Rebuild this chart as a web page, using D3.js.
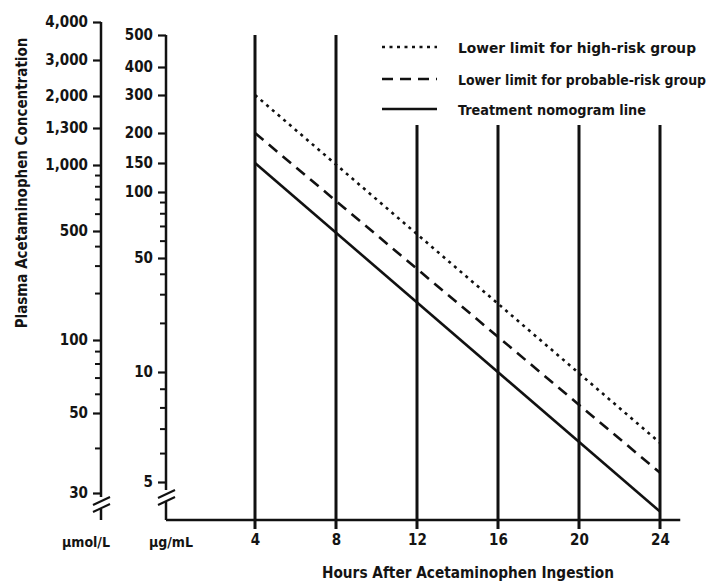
<!DOCTYPE html>
<html>
<head>
<meta charset="utf-8">
<script src="https://cdn.jsdelivr.net/npm/d3@7"></script>
<style>
	body { margin: 0; background: #fff; }
	svg { display: block; }
	text { font-family: "Liberation Sans Narrow", "Arial Narrow", "DejaVu Sans Condensed", sans-serif; font-weight: bold; fill: #141414; }
</style>
</head>
<body>
<div id="chart"></div>
<script>

// hours after ingestion (vertical guide lines)
const hours = [4, 8, 12, 16, 20, 24];

// nomogram lines, µg/mL at 4 h and at 24 h
const lineHours = [4, 24];
const highRisk = [300, 6.4];
const probableRisk = [200, 5.3];
const treatment = [150, 4.15];

const seriesNames = [
	"Lower limit for high-risk group",
	"Lower limit for probable-risk group",
	"Treatment nomogram line"
];

// tick labels
const ugTicks = [500, 400, 300, 200, 150, 100, 50, 10, 5];
const ugMinor = [90, 80, 70, 60, 40, 30, 20, 9, 8, 7, 6];
const umolTicks = [4000, 3000, 2000, 1300, 1000, 500, 100, 50, 30];
const umolMinor = [900, 800, 700, 600, 400, 300, 200, 90, 80, 70, 60, 40];

// set up
const w = 719;
const h = 585;
const leftAxisX = 101;
const rightAxisX = 166;
const baseY = 520;

const svg = d3.select("#chart")
	.append("svg")
	.attr("width", w)
	.attr("height", h);

// scales (the scanned axes are not evenly logarithmic, so the log scales are piecewise)
const x = d3.scaleLinear()
	.domain([4, 24])
	.range([255, 660]);

const yUg = d3.scaleLog()
	.domain([5, 10, 50, 100, 150, 200, 300, 400, 500])
	.range([482, 372, 258, 192, 163, 133, 95, 67, 35]);

const yUmol = d3.scaleLog()
	.domain([30, 50, 100, 500, 1000, 1300, 2000, 3000, 4000])
	.range([493, 413, 340, 231, 165, 128, 96, 60, 22]);

// vertical hour lines
svg.append("g")
	.selectAll("line")
	.data(hours)
	.enter()
	.append("line")
	.attr("x1", d => x(d))
	.attr("x2", d => x(d))
	.attr("y1", d => d <= 8 ? yUg(500) : 125)
	.attr("y2", baseY + 9)
	.attr("stroke", "#111")
	.attr("stroke-width", 3);

// x axis
const xAxis = svg.append("g")
	.attr("transform", `translate(0,${baseY})`)
	.call(d3.axisBottom(x).tickValues(hours).tickSize(0).tickPadding(14));
xAxis.select(".domain").remove();
xAxis.selectAll("text").attr("font-size", 15);

svg.append("line")
	.attr("x1", rightAxisX)
	.attr("x2", x(25))
	.attr("y1", baseY)
	.attr("y2", baseY)
	.attr("stroke", "#111")
	.attr("stroke-width", 2.5);

// y axes
function drawAxis(scale, xPos, major, minor, fmt, top, breakY){
	const g = svg.append("g").attr("transform", `translate(${xPos},0)`);
	g.append("g")
		.call(d3.axisLeft(scale).tickValues(major).tickSize(8).tickPadding(5).tickFormat(fmt))
		.call(s => s.select(".domain").remove())
		.call(s => s.selectAll("line").attr("stroke", "#111").attr("stroke-width", 2.2))
		.call(s => s.selectAll("text").attr("font-size", 15));
	g.append("g")
		.call(d3.axisLeft(scale).tickValues(minor).tickSize(6).tickFormat(""))
		.call(s => s.select(".domain").remove())
		.call(s => s.selectAll("line").attr("stroke", "#111").attr("stroke-width", 2));

	// axis line with break
	g.append("line")
		.attr("y1", top).attr("y2", breakY - 4)
		.attr("stroke", "#111").attr("stroke-width", 2.5);
	g.append("line")
		.attr("y1", breakY + 8).attr("y2", baseY)
		.attr("stroke", "#111").attr("stroke-width", 2.5);
	g.selectAll(".brk")
		.data([0, 7])
		.enter()
		.append("line")
		.attr("class", "brk")
		.attr("x1", -8).attr("x2", 9)
		.attr("y1", d => breakY + d + 4).attr("y2", d => breakY + d - 4)
		.attr("stroke", "#111").attr("stroke-width", 2);
}

drawAxis(yUmol, leftAxisX, umolTicks, umolMinor, d3.format(","), yUmol(4000), 501);
drawAxis(yUg, rightAxisX, ugTicks, ugMinor, d3.format("d"), yUg(500), 494);

// units
svg.append("text").attr("x", 86).attr("y", 547).attr("text-anchor", "middle").attr("font-size", 14).text("µmol/L");
svg.append("text").attr("x", 171).attr("y", 547).attr("text-anchor", "middle").attr("font-size", 14).text("µg/mL");

// axis titles
svg.append("text")
	.attr("x", 468).attr("y", 578)
	.attr("text-anchor", "middle")
	.attr("font-size", 16)
	.attr("textLength", 292)
	.attr("lengthAdjust", "spacingAndGlyphs")
	.text("Hours After Acetaminophen Ingestion");

svg.append("text")
	.attr("transform", "translate(27,183) rotate(-90)")
	.attr("text-anchor", "middle")
	.attr("font-size", 15)
	.text("Plasma Acetaminophen Concentration");

// nomogram lines
const series = [
	{name: seriesNames[0], vals: highRisk, dash: "3,4.5", len: 238},
	{name: seriesNames[1], vals: probableRisk, dash: "11,7", len: 248},
	{name: seriesNames[2], vals: treatment, dash: null, len: 188}
];

const line = d3.line()
	.x(d => x(d[0]))
	.y(d => yUg(d[1]));

svg.append("g")
	.selectAll("path")
	.data(series)
	.enter()
	.append("path")
	.attr("d", d => line(d3.zip(lineHours, d.vals)))
	.attr("fill", "none")
	.attr("stroke", "#111")
	.attr("stroke-width", 2.6)
	.attr("stroke-dasharray", d => d.dash);

// legend
const legend = svg.append("g")
	.selectAll("g")
	.data(series)
	.enter()
	.append("g")
	.attr("transform", (d, i) => `translate(382,${[47, 79, 109][i]})`);

legend.append("line")
	.attr("x1", 0).attr("x2", 55)
	.attr("stroke", "#111")
	.attr("stroke-width", 2.6)
	.attr("stroke-dasharray", d => d.dash);

legend.append("text")
	.attr("x", 76).attr("y", 6)
	.attr("font-size", 14)
	.attr("textLength", d => d.len)
	.attr("lengthAdjust", "spacingAndGlyphs")
	.text(d => d.name);

</script>
</body>
</html>
